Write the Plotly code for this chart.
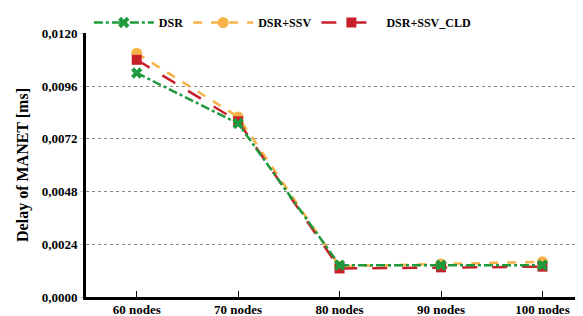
import plotly.graph_objects as go

categories = ["60 nodes", "70 nodes", "80 nodes", "90 nodes", "100 nodes"]
dsr = [0.0102, 0.0079, 0.00145, 0.00145, 0.00145]
dsr_ssv = [0.0111, 0.0082, 0.00140, 0.00150, 0.00160]
dsr_ssv_cld = [0.0108, 0.0080, 0.00130, 0.00135, 0.00138]
y_ticks = [0.0, 0.0024, 0.0048, 0.0072, 0.0096, 0.0120]

font_family = "Liberation Serif, Times New Roman, serif"

fig = go.Figure()
fig.add_trace(go.Scatter(
    x=categories, y=dsr_ssv, name="DSR+SSV", mode="lines+markers", legendrank=2,
    line=dict(color="#f7b347", width=2.5, dash="dash"),
    marker=dict(symbol="circle", size=11, color="#f7b347")))
fig.add_trace(go.Scatter(
    x=categories, y=dsr_ssv_cld, name="DSR+SSV_CLD", mode="lines+markers", legendrank=3,
    line=dict(color="#c8202a", width=2.5, dash="longdash"),
    marker=dict(symbol="square", size=10, color="#c8202a")))
fig.add_trace(go.Scatter(
    x=categories, y=dsr, name="DSR", mode="lines+markers", legendrank=1,
    line=dict(color="#1e9a3c", width=2.5, dash="dashdot"),
    marker=dict(symbol="x", size=10, color="#1e9a3c")))

# page body has an 8px default margin, so the figure is sized to fit the window
fig.update_layout(
    width=575, height=308,
    margin=dict(l=78, r=0, t=25, b=19, autoexpand=False),
    paper_bgcolor="white", plot_bgcolor="white",
    separators=",.",
    font=dict(family=font_family, size=13, color="black"),
    showlegend=True,
    legend=dict(orientation="h", x=0.478, xanchor="center", xref="container",
                y=1.0, yanchor="top", yref="container",
                font=dict(family=font_family, size=12, color="black", weight="bold"),
                bgcolor="rgba(0,0,0,0)", traceorder="normal", itemwidth=60),
)
fig.update_xaxes(
    type="category", range=[-0.5, 4.4],
    showline=True, linecolor="black", linewidth=3,
    ticks="inside", ticklen=6, tickcolor="black", tickwidth=1,
    ticklabelstandoff=-2,
    tickfont=dict(family=font_family, size=13, color="black", weight="bold"),
    showgrid=False, zeroline=False,
)
fig.update_yaxes(
    range=[0, 0.01202], tickvals=y_ticks, tickformat=".4f",
    showline=True, linecolor="black", linewidth=3,
    ticks="outside", ticklen=3, tickcolor="#cccccc",
    tickfont=dict(family=font_family, size=13, color="black", weight="bold"),
    showgrid=True, gridcolor="#888888", griddash="dot", gridwidth=1,
    zeroline=False,
    title=dict(text="Delay of MANET [ms]", font=dict(family=font_family, size=16, color="black", weight="bold"), standoff=10),
)

fig.write_html("out.html")
